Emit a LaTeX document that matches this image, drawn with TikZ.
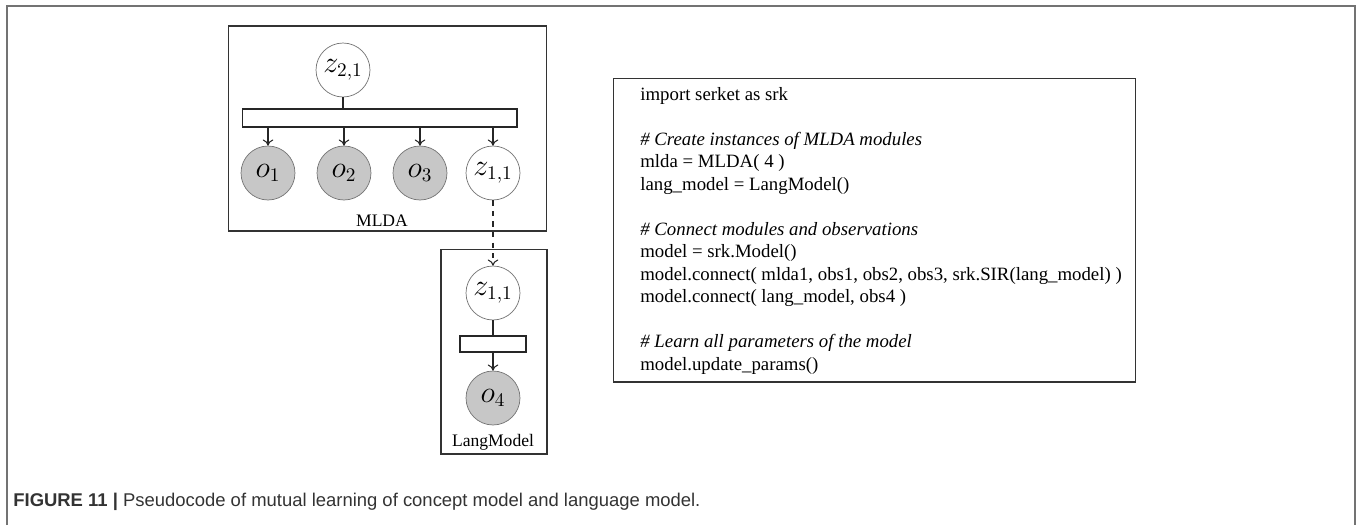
\documentclass[tikz,border=0pt]{standalone}
\usepackage[no-math]{fontspec}
\setmainfont{Liberation Serif}
\newfontfamily\capfont{Liberation Sans}
\usetikzlibrary{positioning, arrows.meta}

\begin{document}
\begin{tikzpicture}[x=0.02cm, y=-0.02cm,
        latent/.style={circle, draw=black!55, fill=white, minimum size=1.08cm, inner sep=0pt, font=\fontsize{16}{18}\selectfont},
        observed/.style={latent, fill=black!22},
        factor/.style={rectangle, draw=black!85, line width=0.6pt, fill=white, inner sep=0pt},
        plate/.style={rectangle, draw=black!80, line width=0.6pt, inner sep=0pt},
        line/.style={-, line width=0.6pt, black!85},
        arrow/.style={-{To[length=3.5pt, width=6pt]}, line width=0.6pt, black!85}
    ]
        \useasboundingbox (0,0) rectangle (1357,525);
        % outer frame, open at the bottom
        \draw[black!55, line width=0.9pt] (7,525) -- (7,6) -- (1355,6) -- (1355,525);

        % MLDA module
        \node[plate, minimum width=6.38cm, minimum height=4.1cm] (mlda) at (387.5,128.5) {};
        \node[latent] (z21) at (343,70) {$z_{2,1}$};
        \node[factor, minimum width=5.5cm, minimum height=0.36cm] (bar) at (379.5,118) {};
        \node[observed] (o1) at (268,173) {$o_1$};
        \node[observed] (o2) at (344,173) {$o_2$};
        \node[observed] (o3) at (420,173) {$o_3$};
        \node[latent] (z11) at (493,173) {$z_{1,1}$};
        \node[font=\fontsize{10}{12}\selectfont] (mldalabel) at (382,221) {MLDA};
        \draw[line] (z21) -- (z21 |- bar.north);
        \foreach \o in {o1, o2, o3, z11}
            \draw[arrow] (bar.south -| \o) -- (\o);

        % language model
        \node[plate, minimum width=2.12cm, minimum height=4.1cm] (lang) at (494,351.5) {};
        \node[latent] (z11b) at (493,293) {$z_{1,1}$};
        \node[factor, minimum width=1.32cm, minimum height=0.32cm] (bar2) at (493,344) {};
        \node[observed] (o4) at (493,398) {$o_4$};
        \node[font=\fontsize{10}{12}\selectfont] (langlabel) at (493,442) {LangModel};
        \draw[line] (z11b) -- (bar2);
        \draw[arrow] (bar2) -- (o4);
        \draw[arrow, dashed] (z11) -- (z11b);

        % pseudocode
        \node[plate, minimum width=10.46cm, minimum height=6.08cm] (code) at (874.5,230) {};
        \node[anchor=north west, inner sep=0pt, align=left, font=\fontsize{10.7}{12.8}\selectfont] (codetext) at (640,87) {%
            import serket as srk\\[12.8pt]
            \textit{\# Create instances of MLDA modules}\\
            mlda = MLDA( 4 )\\
            lang\_model = LangModel()\\[12.8pt]
            \textit{\# Connect modules and observations}\\
            model = srk.Model()\\
            model.connect( mlda1, obs1, obs2, obs3, srk.SIR(lang\_model) )\\
            model.connect( lang\_model, obs4 )\\[12.8pt]
            \textit{\# Learn all parameters of the model}\\
            model.update\_params()};

        % caption
        \node[anchor=base west, inner sep=0pt, font=\capfont\fontsize{10.5}{12}\selectfont, black!80] (caption) at (13,506)
            {\textbf{FIGURE 11 |} Pseudocode of mutual learning of concept model and language model.};
    \end{tikzpicture}
\end{document}
